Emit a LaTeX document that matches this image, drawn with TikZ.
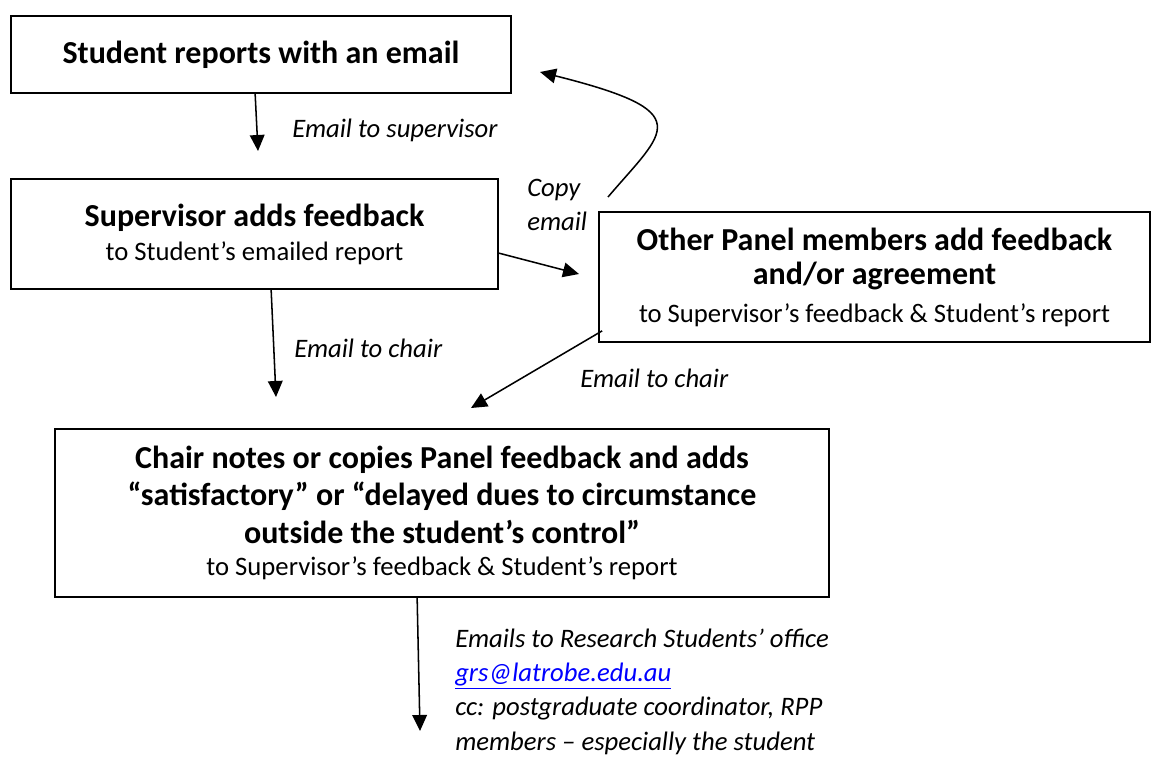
\documentclass[tikz,border=0pt]{standalone}
\usepackage{fontspec}
\setmainfont{Carlito}
\usetikzlibrary{arrows.meta,calc}
\definecolor{linkblue}{RGB}{0,0,255}
\tikzset{
  box/.style={draw=black, line width=1.3pt, rectangle, inner sep=0pt, align=center},
  arr/.style={line width=1.15pt, -{Triangle[length=12pt,width=11pt]}},
  lbl/.style={anchor=west, inner sep=0pt, font=\fontsize{20}{25.3}\selectfont\itshape, align=left}
}
\begin{document}
\begin{tikzpicture}[x=0.75pt,y=-0.75pt]
\useasboundingbox (0,0) rectangle (1151,772);

% boxes
\node[box, minimum width=500*0.75pt, minimum height=77*0.75pt, font=\fontsize{24}{28}\selectfont\bfseries]
  (b1) at (261,54.5) {Student reports with an email};
\node[box, minimum width=487*0.75pt, minimum height=110*0.75pt, font=\fontsize{20}{25.5}\selectfont]
  (b2) at (254.5,234) {{\fontsize{24}{28}\selectfont\bfseries Supervisor adds feedback}\\to Student’s emailed report};
\node[box, minimum width=551*0.75pt, minimum height=130*0.75pt, font=\fontsize{20}{25.5}\selectfont]
  (b3) at (874.5,277) {{\fontsize{24}{28}\selectfont\bfseries Other Panel members add feedback}\\{\fontsize{24}{28}\selectfont\bfseries and/or agreement}\\[3pt]to Supervisor’s feedback \& Student’s report};
\node[box, minimum width=774*0.75pt, minimum height=168*0.75pt, font=\fontsize{20}{28}\selectfont]
  (b4) at (442,513) {{\fontsize{24}{28}\selectfont\bfseries Chair notes or copies Panel feedback and adds}\\{\fontsize{24}{28}\selectfont\bfseries “satisfactory” or “delayed dues to circumstance}\\{\fontsize{24}{28}\selectfont\bfseries outside the student’s control”}\\[-3.5pt]to Supervisor’s feedback \& Student’s report};

% labels
\node[lbl] (l1) at (292,130) {Email to supervisor};
\node[lbl] (l2) at (527,205) {Copy\\email};
\node[lbl] (l3) at (294,348) {Email to chair};
\node[lbl] (l4) at (580,378) {Email to chair};
\node[lbl, font=\fontsize{20}{25.8}\selectfont\itshape] (l5) at (455,691.5) {Emails to Research Students’ office\\{\color{linkblue}\underline{grs@latrobe.edu.au}}\\cc: postgraduate coordinator, RPP\\members – especially the student};

% free connector ends
\coordinate (e1) at (258,151);
\coordinate (e2) at (276,397);
\coordinate (e3) at (579,274);
\coordinate (e4) at (471,408);
\coordinate (e5) at (420,731);
\coordinate (c0) at (608,197);
\coordinate (c1) at (540,72);

% connectors
\draw[arr] ($(b1.south west)+(245,0)$) -- (e1);
\draw[arr] ($(b2.south west)+(261,0)$) -- (e2);
\draw[arr] ($(b2.north east)+(0,75)$) -- (e3);
\draw[arr] ($(b3.south west)+(4,-12)$) -- (e4);
\draw[arr] ($(b4.south west)+(363,0)$) -- (e5);
\draw[arr] (c0) .. controls (665,130) and (700,112) .. (c1);
\end{tikzpicture}
\end{document}
